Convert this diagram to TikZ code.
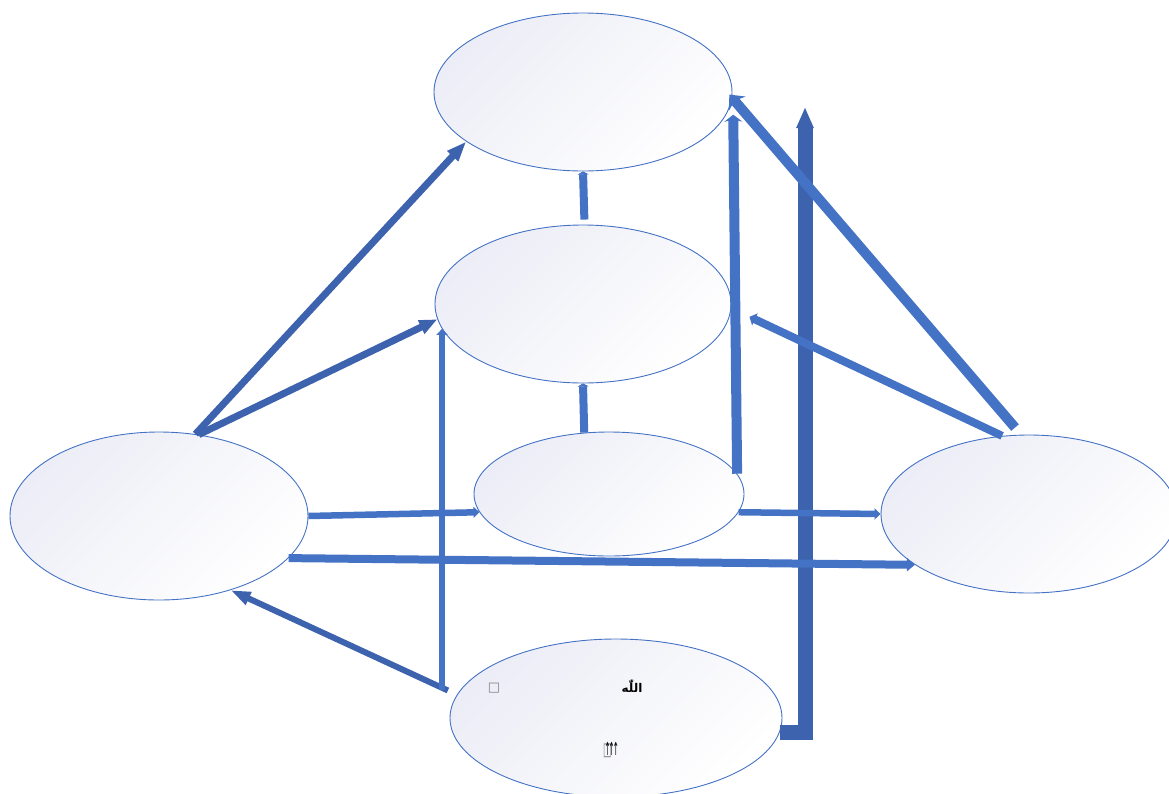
\documentclass[tikz,border=0pt]{standalone}
\usepackage{fontspec}
\usetikzlibrary{shapes.geometric,arrows.meta,calc}
\TeXXeTstate=1
\newfontfamily\dejavu{DejaVu Sans}
\newfontfamily\arabicfont[Script=Arabic]{DejaVu Sans}
\definecolor{ublue}{HTML}{4472C4}
\definecolor{dblue}{HTML}{3D62AE}
\definecolor{lav}{HTML}{ECEDF6}
\begin{document}
\begin{tikzpicture}[x=1pt,y=-1pt,
  ell/.style={ellipse, draw=ublue, line width=0.9pt, top color=lav, bottom color=white, shading angle=45, inner sep=0pt},
  conn/.style={draw=ublue, line width=8pt},
  dconn/.style={draw=dblue, line width=7pt}]
\useasboundingbox (0,0) rectangle (1169,793);
% ellipses
\node[ell, minimum width=298pt, minimum height=158pt] (T) at (583,92) {};
\node[ell, minimum width=296pt, minimum height=158pt] (M) at (583,304) {};
\node[ell, minimum width=270pt, minimum height=124pt] (C) at (609,494) {};
\node[ell, minimum width=298pt, minimum height=168pt] (L) at (159,516) {};
\node[ell, minimum width=296pt, minimum height=158pt] (R) at (1029,514) {};
\node[ell, minimum width=332pt, minimum height=158pt] (B) at (616,718) {};
% texts in bottom ellipse
\node[text=gray, font=\dejavu\fontsize{13}{13}\selectfont, inner sep=0pt] (b1) at (494,688) {□};
\node[font=\arabicfont\bfseries\fontsize{12}{12}\selectfont, inner sep=0pt] (b2) at (632,686) {\beginR اللّٰه\endR};
\node[font=\dejavu\fontsize{18}{18}\selectfont, inner sep=0pt] (b3) at (611,750) {{\color{gray}\scalebox{0.5}[1]{□}}\kern-7pt\scalebox{0.4}[1]{↑}\kern-2pt\scalebox{0.4}[1]{↑}\kern-2pt\scalebox{0.4}[1]{↑}};
% big elbow arrow
\coordinate (top13) at (805,107);
\draw[draw=dblue, line width=15pt, line join=miter, -{Triangle[width=16pt,length=21pt]}] (B.-5) -| (top13);
% connectors
\draw[dconn, -{Triangle[width=14pt,length=20pt]}] (L.66) -- (T.-157);
\draw[dconn, -{Triangle[width=14pt,length=18pt]}] (L.64) -- (M.-174);
\draw[conn, -{Triangle[width=11pt,length=3pt]}] ([yshift=5pt]M.89) -- (T.-90);
\draw[conn, -{Triangle[width=11pt,length=3pt]}] (C.112) -- (M.-90);
\draw[conn, line width=10pt, -{Stealth[width=18pt,length=7pt,inset=2pt]}] (C.9) -- ([xshift=7pt]T.-9);
\draw[conn, line width=10pt, -{Stealth[width=22pt,length=12pt,inset=4pt]}] ([xshift=-14pt,yshift=7pt]R.north) -- ([xshift=-3pt]T.-1);
\draw[conn, -{Triangle[width=13pt,length=6pt]}] (R.109) -- ([xshift=20pt]M.-5);
\draw[conn, line width=6.5pt, -{Triangle[width=11pt,length=6pt]}] (L.0) -- (C.-172);
\draw[conn, line width=6.5pt, -{Triangle[width=11pt,length=6pt]}] (C.-8) -- (R.180);
\draw[conn, -{Triangle[width=13pt,length=8pt]}] (L.-18.6) -- (R.-156.5);
\draw[dconn, line width=6pt, -{Triangle[width=13pt,length=20pt]}] ([xshift=-12pt]B.170.6) -- (L.-46);
\draw[conn, line width=6.5pt, -{Triangle[width=11pt,length=6pt]}] (M.-170.4 |- B.170.6) -- (M.-170.4);
\end{tikzpicture}
\end{document}
